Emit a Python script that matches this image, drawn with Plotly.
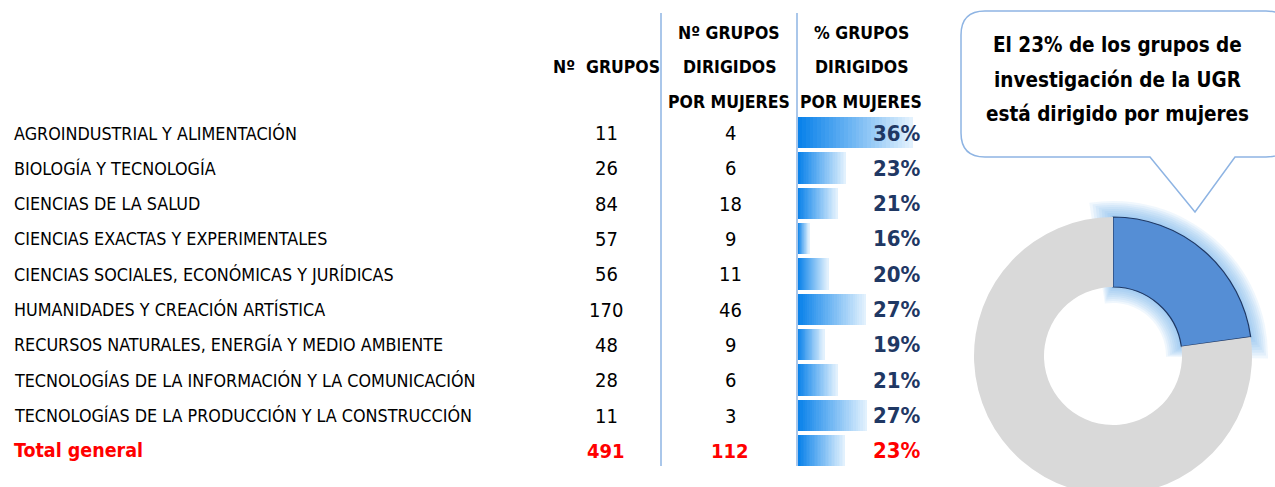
import plotly.graph_objects as go

# ---------------- data ----------------
categories = [
    "AGROINDUSTRIAL Y ALIMENTACIÓN",
    "BIOLOGÍA Y TECNOLOGÍA",
    "CIENCIAS DE LA SALUD",
    "CIENCIAS EXACTAS Y EXPERIMENTALES",
    "CIENCIAS SOCIALES, ECONÓMICAS Y JURÍDICAS",
    "HUMANIDADES Y CREACIÓN ARTÍSTICA",
    "RECURSOS NATURALES, ENERGÍA Y MEDIO AMBIENTE",
    "TECNOLOGÍAS DE LA INFORMACIÓN Y LA COMUNICACIÓN",
    "TECNOLOGÍAS DE LA PRODUCCIÓN Y LA CONSTRUCCIÓN",
]
n_grupos = [11, 26, 84, 57, 56, 170, 48, 28, 11]
n_mujeres = [4, 6, 18, 9, 11, 46, 9, 6, 3]
total_label = "Total general"
total_grupos = 491
total_mujeres = 112

header_col1 = ["Nº  GRUPOS"]
header_col2 = ["Nº GRUPOS", "DIRIGIDOS", "POR MUJERES"]
header_col3 = ["% GRUPOS", "DIRIGIDOS", "POR MUJERES"]
bubble_lines = ["El 23% de los grupos de", "investigación de la UGR", "está dirigido por mujeres"]
donut_labels = ["Dirigidos por mujeres", "Resto"]
donut_values = [total_mujeres, total_grupos - total_mujeres]

# ---------------- layout helpers ----------------
W, H = 1275, 520          # page shows the top 487 px
def px(x):
    return x / W
def py(y):
    return 1 - y / H

FONT = "Liberation Sans Narrow, Arial Narrow, DejaVu Sans Condensed, sans-serif"
NAVY = "#1f3864"
RED = "#ff0000"
LINE = "#8eb4e3"

rows = categories + [total_label]
grupos_all = n_grupos + [total_grupos]
mujeres_all = n_mujeres + [total_mujeres]
pct = [m / g for m, g in zip(mujeres_all, grupos_all)]
n = len(rows)

# Excel-like data bar scale: shortest bar = 10% of max length
vmin, vmax = min(pct), max(pct)
lo = vmin - (vmax - vmin) * 0.1 / 0.9

fig = go.Figure()

# gradient data bars built from stacked segments
NSEG = 30
c0 = (10, 130, 234)
c1 = (226, 241, 253)
for k in range(NSEG):
    t = k / (NSEG - 1)
    col = "rgb(%d,%d,%d)" % tuple(round(a + (b - a) * t) for a, b in zip(c0, c1))
    ext = 1.4 if k < NSEG - 1 else 1.0
    fig.add_trace(go.Bar(
        y=list(range(n)),
        x=[(v - lo) / NSEG * ext for v in pct],
        base=[lo + (v - lo) * k / NSEG for v in pct],
        orientation="h",
        width=0.88,
        marker=dict(color=col, line=dict(width=0)),
        hoverinfo="skip",
        showlegend=False,
    ))

# donut (with a soft glow behind the highlighted slice)
CX, CY, RO, RI = 1113, 356, 139, 69
share_deg = 360 * donut_values[0] / sum(donut_values)
for d in range(16, 0, -2):
    pad = d * 0.55
    glow_vals = [share_deg + 2 * pad, 360 - share_deg - 2 * pad]
    fig.add_trace(go.Pie(
        labels=donut_labels, values=glow_vals,
        hole=max(RI - d, 1) / (RO + d), sort=False, direction="clockwise", rotation=-pad,
        marker=dict(colors=["rgba(100,165,238,0.095)", "rgba(0,0,0,0)"], line=dict(width=0)),
        textinfo="none", hoverinfo="skip", showlegend=False,
        domain=dict(x=[px(CX - RO - d), px(CX + RO + d)], y=[py(CY + RO + d), py(CY - RO - d)]),
    ))
fig.add_trace(go.Pie(
    labels=donut_labels,
    values=donut_values,
    hole=RI / RO,
    sort=False,
    direction="clockwise",
    rotation=0,
    marker=dict(colors=["#558ed5", "#d9d9d9"],
                line=dict(color=[NAVY, "rgba(0,0,0,0)"], width=[1.2, 0])),
    textinfo="none",
    domain=dict(x=[px(CX - RO), px(CX + RO)], y=[py(CY + RO), py(CY - RO)]),
    showlegend=False,
))

ann = []
for i, name in enumerate(rows):
    is_tot = i == n - 1
    ann.append(dict(
        x=px(12), xref="paper", y=i, yref="y", xanchor="left", yanchor="middle",
        text=("<b>%s</b>" % name) if is_tot else name, showarrow=False,
        font=dict(family=FONT, size=19.5 if is_tot else 17.8, color=RED if is_tot else "black"),
    ))
    ann.append(dict(
        x=px(606), xref="paper", y=i, yref="y", xanchor="center", yanchor="middle",
        text=("<b>%d</b>" % grupos_all[i]) if is_tot else str(grupos_all[i]), showarrow=False,
        font=dict(family=FONT, size=20, color=RED if is_tot else "black"),
    ))
    ann.append(dict(
        x=px(730), xref="paper", y=i, yref="y", xanchor="center", yanchor="middle",
        text=("<b>%d</b>" % mujeres_all[i]) if is_tot else str(mujeres_all[i]), showarrow=False,
        font=dict(family=FONT, size=20, color=RED if is_tot else "black"),
    ))
    ann.append(dict(
        x=px(923), xref="paper", y=i, yref="y", xanchor="right", yanchor="middle",
        text="<b>%d%%</b>" % round(pct[i] * 100), showarrow=False,
        font=dict(family=FONT, size=22, color=RED if is_tot else NAVY),
    ))

# headers
HS = 17.5
ann.append(dict(x=px(606), y=py(67), xref="paper", yref="paper", xanchor="center", yanchor="middle",
                text="<b>%s</b>" % header_col1[0], showarrow=False,
                font=dict(family=FONT, size=HS, color="black")))
for j, (t2, t3) in enumerate(zip(header_col2, header_col3)):
    yy = [33, 67, 102][j]
    ann.append(dict(x=px(729), y=py(yy), xref="paper", yref="paper", xanchor="center", yanchor="middle",
                    text="<b>%s</b>" % t2, showarrow=False,
                    font=dict(family=FONT, size=HS, color="black")))
    ann.append(dict(x=px(861), y=py(yy), xref="paper", yref="paper", xanchor="center", yanchor="middle",
                    text="<b>%s</b>" % t3, showarrow=False,
                    font=dict(family=FONT, size=HS, color="black")))

# bubble text
for j, t in enumerate(bubble_lines):
    ann.append(dict(x=px(1117), y=py([45, 80, 114][j]), xref="paper", yref="paper",
                    xanchor="center", yanchor="middle", text="<b>%s</b>" % t, showarrow=False,
                    font=dict(family=FONT, size=20.5, color="black")))

# shapes: column separators and speech bubble
shapes = []
for xv in (661, 797):
    shapes.append(dict(type="line", xref="paper", yref="paper",
                       x0=px(xv), x1=px(xv), y0=py(13), y1=py(466),
                       line=dict(color=LINE, width=1.5)))

L, R, T, B, r = 961, 1290, 11, 157, 24
tl, tr, tip = 1150, 1235, (1195, 212)
def P(x, y):
    return "%.5f,%.5f" % (px(x), py(y))
path = ("M " + P(L + r, T) + " L " + P(R - r, T) + " Q " + P(R, T) + " " + P(R, T + r) +
        " L " + P(R, B - r) + " Q " + P(R, B) + " " + P(R - r, B) +
        " L " + P(tr, B) + " L " + P(*tip) + " L " + P(tl, B) +
        " L " + P(L + r, B) + " Q " + P(L, B) + " " + P(L, B - r) +
        " L " + P(L, T + r) + " Q " + P(L, T) + " " + P(L + r, T) + " Z")
shapes.append(dict(type="path", xref="paper", yref="paper", path=path,
                   fillcolor="white", line=dict(color=LINE, width=1.5), layer="below"))

fig.update_layout(
    width=W, height=H,
    margin=dict(l=0, r=0, t=0, b=0),
    paper_bgcolor="white", plot_bgcolor="rgba(0,0,0,0)",
    barmode="overlay",
    bargap=0,
    xaxis=dict(domain=[px(798), px(913)], range=[lo, vmax], visible=False, fixedrange=True),
    yaxis=dict(domain=[py(133 + 35.33 * 9 + 17.67), py(133 - 17.67)], range=[n - 0.5, -0.5],
               visible=False, fixedrange=True),
    annotations=ann,
    shapes=shapes,
)

fig.write_html(
    "out.html",
    config={"displayModeBar": False},
    post_script="document.body.style.margin='0';document.body.style.overflow='hidden';"
                "document.documentElement.style.overflow='hidden';",
)
